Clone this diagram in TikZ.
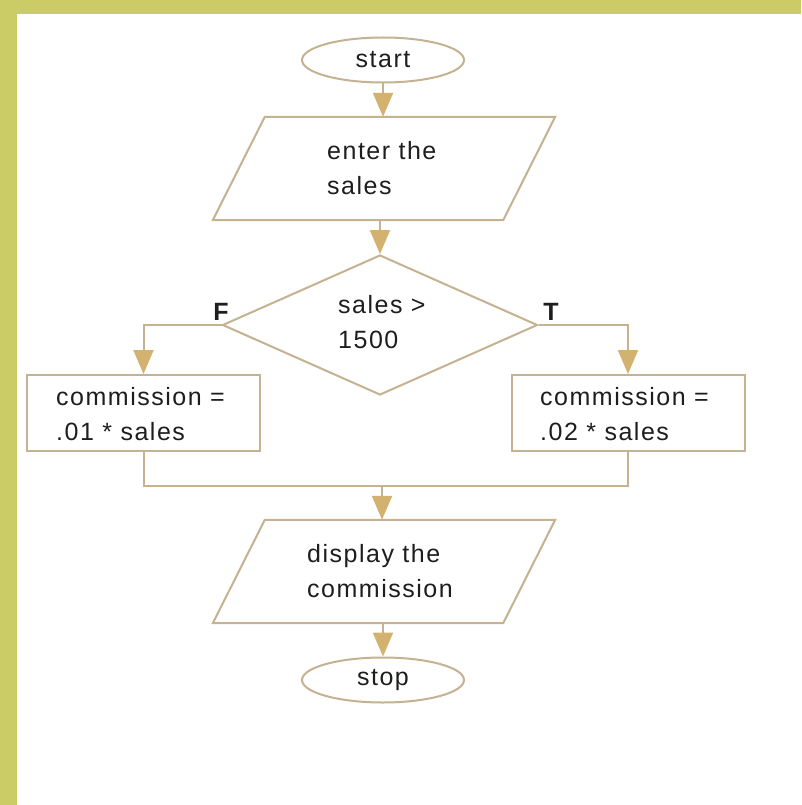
\documentclass[tikz,border=0pt]{standalone}
\usepackage{fontspec}
\setmainfont{Liberation Sans}[LetterSpace=6]
\usetikzlibrary{shapes.geometric,arrows.meta,calc}

\definecolor{band}{RGB}{204,204,102}
\definecolor{flowline}{RGB}{196,178,145}
\definecolor{tipfill}{RGB}{210,178,110}
\definecolor{ink}{RGB}{30,30,30}

\tikzset{
  flow/.style={draw=flowline, line width=2pt},
  terminal/.style={flow, ellipse, inner sep=0pt, minimum width=162pt, minimum height=45pt},
  ioframe/.style={rectangle, inner sep=0pt, minimum width=290pt, minimum height=103pt},
  decision/.style={flow, diamond, inner sep=0pt, minimum width=315pt, minimum height=140pt},
  process/.style={flow, rectangle, inner sep=0pt, minimum width=233pt, minimum height=76pt},
  label/.style={text=ink, font=\fontsize{25pt}{35pt}\selectfont, inner sep=0pt, align=left},
  branch/.style={text=ink, font=\fontsize{25pt}{30pt}\selectfont\bfseries, inner sep=0pt},
  arrow/.style={flow, -{Triangle[width=20pt,length=24pt,fill=tipfill,color=tipfill]}},
}
% slanted input/output box drawn around a named frame node
\newcommand\ioshape[1]{%
  \draw[flow, line join=miter]
    ($(#1.north west)+(26,0)$) -- ($(#1.north east)+(26,0)$)
    -- ($(#1.south east)+(-26,0)$) -- ($(#1.south west)+(-26,0)$) -- cycle;}

\begin{document}
\begin{tikzpicture}[x=1pt,y=-1pt]
  % page frame with the coloured band on the top and left
  \fill[band] (0,0) rectangle (801,805);
  \fill[white] (17,14) rectangle (801,805);
  \useasboundingbox (0,0) rectangle (801,805);

  % shapes
  \node[terminal] (start) at (383,60) {};
  \node[ioframe] (enter) at (384,168.5) {};
  \ioshape{enter}
  \node[decision] (test) at (380,325) {};
  \node[process] (low) at (143.5,413) {};
  \node[process] (high) at (628,413) {};
  \node[ioframe] (show) at (384,571.5) {};
  \ioshape{show}
  \node[terminal] (stop) at (383,680) {};
  \coordinate (join) at (382,486);

  % texts
  \node[label] (t-start) at (start) {start};
  \node[label, anchor=west] (t-enter) at (327,168) {enter the\\sales};
  \node[label, anchor=west] (t-test) at (338,322) {sales >\\1500};
  \node[label, anchor=west] (t-low) at (56,414) {commission =\\.01 * sales};
  \node[label, anchor=west] (t-high) at (540,414) {commission =\\.02 * sales};
  \node[label, anchor=west] (t-show) at (307,571) {display the\\commission};
  \node[label] (t-stop) at (stop) {stop};
  \node[branch] (f) at (221,312) {F};
  \node[branch] (t) at (551,312) {T};

  % connectors (kept vertical between the stacked shapes)
  \draw[arrow] (start.south) -- (start.south |- enter.north);
  \draw[arrow] (test.north |- enter.south) -- (test.north);
  \draw[arrow] (test.west) -| (low.north);
  \draw[arrow] (test.east) -| (high.north);
  \draw[flow] (low.south) |- (join) -| (high.south);
  \draw[arrow] (join) -- (join |- show.north);
  \draw[arrow] (stop.north |- show.south) -- (stop.north);
\end{tikzpicture}
\end{document}
